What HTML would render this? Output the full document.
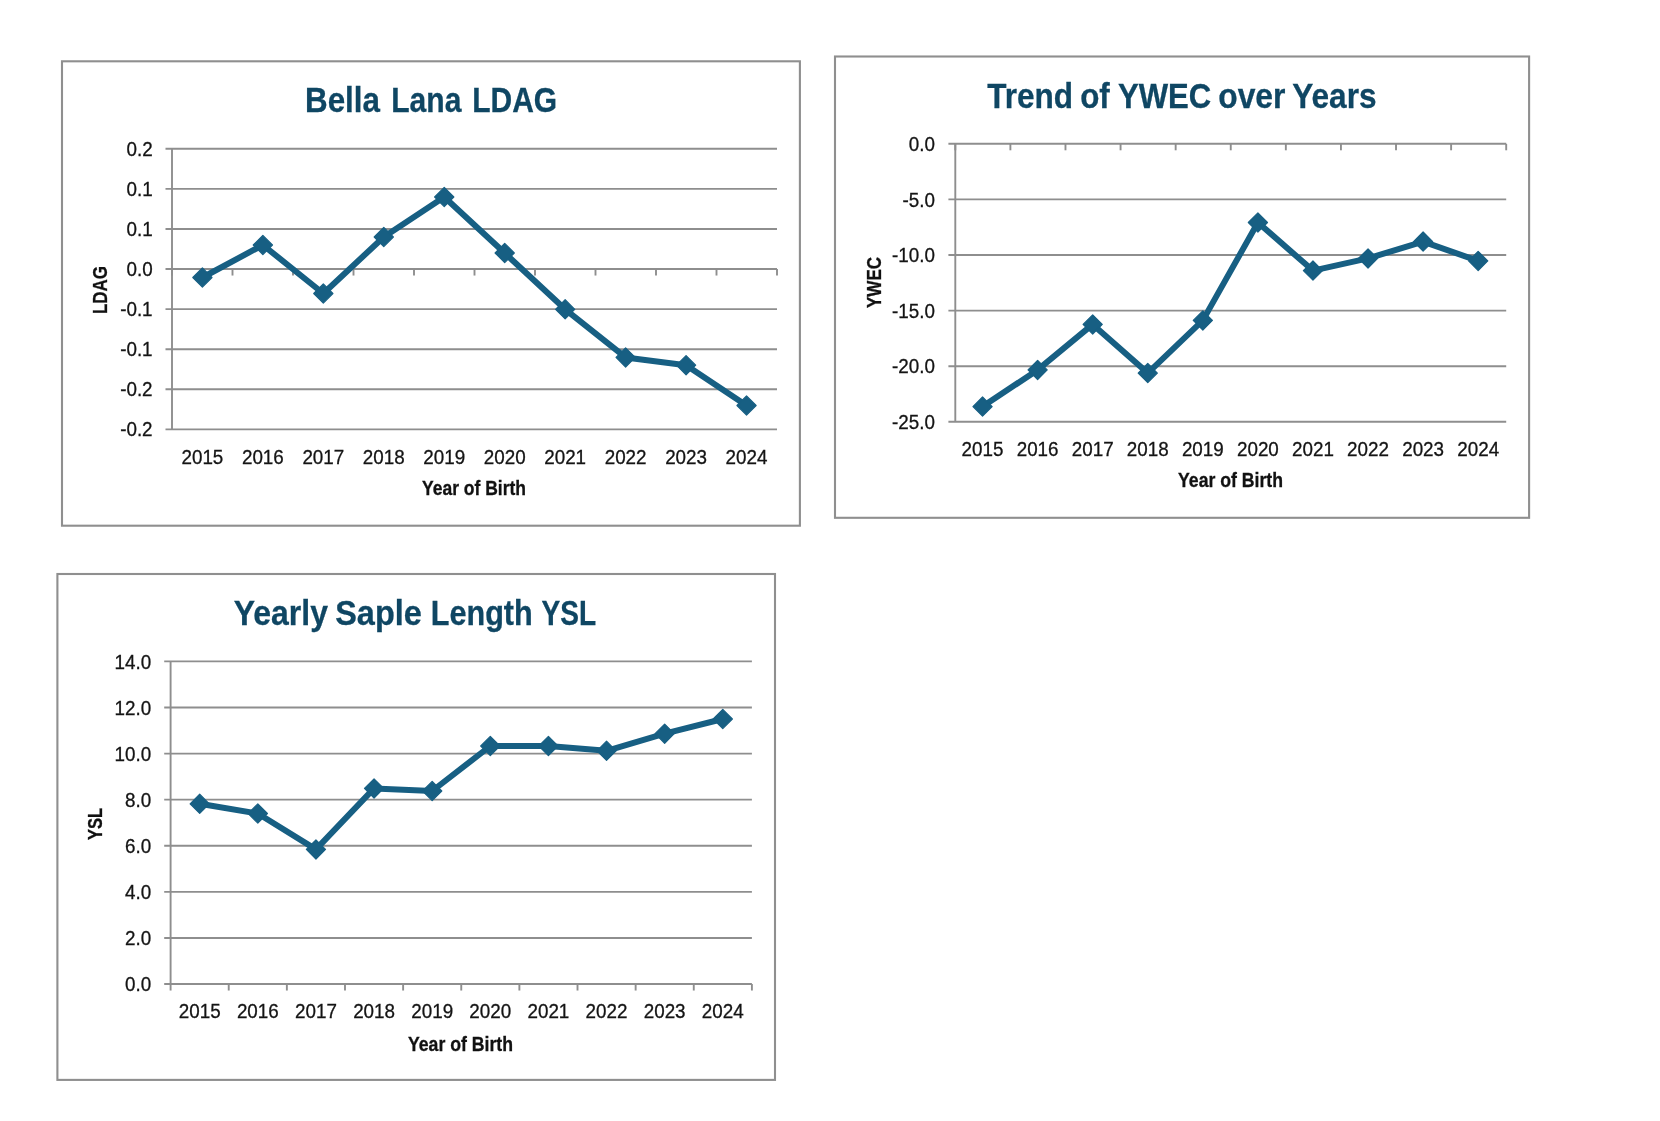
<!DOCTYPE html>
<html><head><meta charset="utf-8"><title>Charts</title>
<style>
html,body{margin:0;padding:0;background:#fff;}
body{width:1660px;height:1121px;overflow:hidden;}
svg{display:block;will-change:transform;}
.t{font-family:'Liberation Sans', Arial, sans-serif;font-size:19.5px;fill:#141414;stroke:#141414;stroke-width:0.3px;}
.b{font-family:'Liberation Sans', Arial, sans-serif;font-size:19.5px;font-weight:bold;fill:#111;stroke:#111;stroke-width:0.3px;}
.h{font-family:'Liberation Sans', Arial, sans-serif;font-size:35.6px;font-weight:bold;fill:#0f4663;stroke:#0f4663;stroke-width:0.3px;}
</style></head>
<body>
<svg width="1660" height="1121" viewBox="0 0 1660 1121">
<rect width="1660" height="1121" fill="#fff"/>
<rect x="62" y="61.3" width="737.9" height="464.4" fill="#fff" stroke="#8f8f8f" stroke-width="2.1"/>
<line x1="165.5" y1="148.8" x2="777" y2="148.8" stroke="#8e8e8e" stroke-width="1.9"/>
<line x1="165.5" y1="188.88" x2="777" y2="188.88" stroke="#8e8e8e" stroke-width="1.9"/>
<line x1="165.5" y1="228.96" x2="777" y2="228.96" stroke="#8e8e8e" stroke-width="1.9"/>
<line x1="165.5" y1="269.04" x2="777" y2="269.04" stroke="#8e8e8e" stroke-width="1.9"/>
<line x1="165.5" y1="309.12" x2="777" y2="309.12" stroke="#8e8e8e" stroke-width="1.9"/>
<line x1="165.5" y1="349.2" x2="777" y2="349.2" stroke="#8e8e8e" stroke-width="1.9"/>
<line x1="165.5" y1="389.28" x2="777" y2="389.28" stroke="#8e8e8e" stroke-width="1.9"/>
<line x1="165.5" y1="429.36" x2="777" y2="429.36" stroke="#8e8e8e" stroke-width="1.9"/>
<line x1="172" y1="148.8" x2="172" y2="429.36" stroke="#8e8e8e" stroke-width="1.9"/>
<line x1="172" y1="269.04" x2="172" y2="275.54" stroke="#8e8e8e" stroke-width="1.9"/>
<line x1="232.5" y1="269.04" x2="232.5" y2="275.54" stroke="#8e8e8e" stroke-width="1.9"/>
<line x1="293" y1="269.04" x2="293" y2="275.54" stroke="#8e8e8e" stroke-width="1.9"/>
<line x1="353.5" y1="269.04" x2="353.5" y2="275.54" stroke="#8e8e8e" stroke-width="1.9"/>
<line x1="414" y1="269.04" x2="414" y2="275.54" stroke="#8e8e8e" stroke-width="1.9"/>
<line x1="474.5" y1="269.04" x2="474.5" y2="275.54" stroke="#8e8e8e" stroke-width="1.9"/>
<line x1="535" y1="269.04" x2="535" y2="275.54" stroke="#8e8e8e" stroke-width="1.9"/>
<line x1="595.5" y1="269.04" x2="595.5" y2="275.54" stroke="#8e8e8e" stroke-width="1.9"/>
<line x1="656" y1="269.04" x2="656" y2="275.54" stroke="#8e8e8e" stroke-width="1.9"/>
<line x1="716.5" y1="269.04" x2="716.5" y2="275.54" stroke="#8e8e8e" stroke-width="1.9"/>
<line x1="777" y1="269.04" x2="777" y2="275.54" stroke="#8e8e8e" stroke-width="1.9"/>
<text x="152.6" y="155.91" text-anchor="end" class="t" textLength="26.16" lengthAdjust="spacingAndGlyphs">0.2</text>
<text x="152.6" y="195.99" text-anchor="end" class="t" textLength="26.16" lengthAdjust="spacingAndGlyphs">0.1</text>
<text x="152.6" y="236.07" text-anchor="end" class="t" textLength="26.16" lengthAdjust="spacingAndGlyphs">0.1</text>
<text x="152.6" y="276.15" text-anchor="end" class="t" textLength="26.16" lengthAdjust="spacingAndGlyphs">0.0</text>
<text x="152.6" y="316.23" text-anchor="end" class="t" textLength="32.43" lengthAdjust="spacingAndGlyphs">-0.1</text>
<text x="152.6" y="356.31" text-anchor="end" class="t" textLength="32.43" lengthAdjust="spacingAndGlyphs">-0.1</text>
<text x="152.6" y="396.39" text-anchor="end" class="t" textLength="32.43" lengthAdjust="spacingAndGlyphs">-0.2</text>
<text x="152.6" y="436.47" text-anchor="end" class="t" textLength="32.43" lengthAdjust="spacingAndGlyphs">-0.2</text>
<text x="202.4" y="463.8" text-anchor="middle" class="t" textLength="41.86" lengthAdjust="spacingAndGlyphs">2015</text>
<text x="262.86" y="463.8" text-anchor="middle" class="t" textLength="41.86" lengthAdjust="spacingAndGlyphs">2016</text>
<text x="323.32" y="463.8" text-anchor="middle" class="t" textLength="41.86" lengthAdjust="spacingAndGlyphs">2017</text>
<text x="383.78" y="463.8" text-anchor="middle" class="t" textLength="41.86" lengthAdjust="spacingAndGlyphs">2018</text>
<text x="444.24" y="463.8" text-anchor="middle" class="t" textLength="41.86" lengthAdjust="spacingAndGlyphs">2019</text>
<text x="504.7" y="463.8" text-anchor="middle" class="t" textLength="41.86" lengthAdjust="spacingAndGlyphs">2020</text>
<text x="565.16" y="463.8" text-anchor="middle" class="t" textLength="41.86" lengthAdjust="spacingAndGlyphs">2021</text>
<text x="625.62" y="463.8" text-anchor="middle" class="t" textLength="41.86" lengthAdjust="spacingAndGlyphs">2022</text>
<text x="686.08" y="463.8" text-anchor="middle" class="t" textLength="41.86" lengthAdjust="spacingAndGlyphs">2023</text>
<text x="746.54" y="463.8" text-anchor="middle" class="t" textLength="41.86" lengthAdjust="spacingAndGlyphs">2024</text>
<text x="474" y="494.7" text-anchor="middle" class="b" textLength="104.03" lengthAdjust="spacingAndGlyphs">Year of Birth</text>
<text transform="translate(107.3,290) rotate(-90)" x="0" y="0" text-anchor="middle" class="b" textLength="48.09" lengthAdjust="spacingAndGlyphs">LDAG</text>
<text y="112" class="h"><tspan x="305" textLength="74.92" lengthAdjust="spacingAndGlyphs">Bella</tspan> <tspan x="391.2" textLength="70.16" lengthAdjust="spacingAndGlyphs">Lana</tspan> <tspan x="472.2" textLength="84.91" lengthAdjust="spacingAndGlyphs">LDAG</tspan></text>
<polyline points="202.4,277.5 262.86,245 323.32,293.5 383.78,237 444.24,197 504.7,253 565.16,309.3 625.62,357.4 686.08,365.2 746.54,405.5" fill="none" stroke="#175f83" stroke-width="6" stroke-linejoin="round" stroke-linecap="round"/>
<polygon points="202.4,267.9 212,277.5 202.4,287.1 192.8,277.5" fill="#175f83" stroke="#175f83" stroke-width="1.2" stroke-linejoin="round"/>
<polygon points="262.86,235.4 272.46,245 262.86,254.6 253.26,245" fill="#175f83" stroke="#175f83" stroke-width="1.2" stroke-linejoin="round"/>
<polygon points="323.32,283.9 332.92,293.5 323.32,303.1 313.72,293.5" fill="#175f83" stroke="#175f83" stroke-width="1.2" stroke-linejoin="round"/>
<polygon points="383.78,227.4 393.38,237 383.78,246.6 374.18,237" fill="#175f83" stroke="#175f83" stroke-width="1.2" stroke-linejoin="round"/>
<polygon points="444.24,187.4 453.84,197 444.24,206.6 434.64,197" fill="#175f83" stroke="#175f83" stroke-width="1.2" stroke-linejoin="round"/>
<polygon points="504.7,243.4 514.3,253 504.7,262.6 495.1,253" fill="#175f83" stroke="#175f83" stroke-width="1.2" stroke-linejoin="round"/>
<polygon points="565.16,299.7 574.76,309.3 565.16,318.9 555.56,309.3" fill="#175f83" stroke="#175f83" stroke-width="1.2" stroke-linejoin="round"/>
<polygon points="625.62,347.8 635.22,357.4 625.62,367 616.02,357.4" fill="#175f83" stroke="#175f83" stroke-width="1.2" stroke-linejoin="round"/>
<polygon points="686.08,355.6 695.68,365.2 686.08,374.8 676.48,365.2" fill="#175f83" stroke="#175f83" stroke-width="1.2" stroke-linejoin="round"/>
<polygon points="746.54,395.9 756.14,405.5 746.54,415.1 736.94,405.5" fill="#175f83" stroke="#175f83" stroke-width="1.2" stroke-linejoin="round"/>
<rect x="835" y="56.5" width="694.1" height="461.3" fill="#fff" stroke="#8f8f8f" stroke-width="2.1"/>
<line x1="948.4" y1="143.8" x2="1506.2" y2="143.8" stroke="#8e8e8e" stroke-width="1.9"/>
<line x1="948.4" y1="199.4" x2="1506.2" y2="199.4" stroke="#8e8e8e" stroke-width="1.9"/>
<line x1="948.4" y1="255" x2="1506.2" y2="255" stroke="#8e8e8e" stroke-width="1.9"/>
<line x1="948.4" y1="310.6" x2="1506.2" y2="310.6" stroke="#8e8e8e" stroke-width="1.9"/>
<line x1="948.4" y1="366.2" x2="1506.2" y2="366.2" stroke="#8e8e8e" stroke-width="1.9"/>
<line x1="948.4" y1="421.8" x2="1506.2" y2="421.8" stroke="#8e8e8e" stroke-width="1.9"/>
<line x1="955.3" y1="143.8" x2="955.3" y2="421.8" stroke="#8e8e8e" stroke-width="1.9"/>
<line x1="955.3" y1="143.8" x2="955.3" y2="150.3" stroke="#8e8e8e" stroke-width="1.9"/>
<line x1="1010.39" y1="143.8" x2="1010.39" y2="150.3" stroke="#8e8e8e" stroke-width="1.9"/>
<line x1="1065.48" y1="143.8" x2="1065.48" y2="150.3" stroke="#8e8e8e" stroke-width="1.9"/>
<line x1="1120.57" y1="143.8" x2="1120.57" y2="150.3" stroke="#8e8e8e" stroke-width="1.9"/>
<line x1="1175.66" y1="143.8" x2="1175.66" y2="150.3" stroke="#8e8e8e" stroke-width="1.9"/>
<line x1="1230.75" y1="143.8" x2="1230.75" y2="150.3" stroke="#8e8e8e" stroke-width="1.9"/>
<line x1="1285.84" y1="143.8" x2="1285.84" y2="150.3" stroke="#8e8e8e" stroke-width="1.9"/>
<line x1="1340.93" y1="143.8" x2="1340.93" y2="150.3" stroke="#8e8e8e" stroke-width="1.9"/>
<line x1="1396.02" y1="143.8" x2="1396.02" y2="150.3" stroke="#8e8e8e" stroke-width="1.9"/>
<line x1="1451.11" y1="143.8" x2="1451.11" y2="150.3" stroke="#8e8e8e" stroke-width="1.9"/>
<line x1="1506.2" y1="143.8" x2="1506.2" y2="150.3" stroke="#8e8e8e" stroke-width="1.9"/>
<text x="935" y="150.91" text-anchor="end" class="t" textLength="26.16" lengthAdjust="spacingAndGlyphs">0.0</text>
<text x="935" y="206.51" text-anchor="end" class="t" textLength="32.43" lengthAdjust="spacingAndGlyphs">-5.0</text>
<text x="935" y="262.11" text-anchor="end" class="t" textLength="42.89" lengthAdjust="spacingAndGlyphs">-10.0</text>
<text x="935" y="317.71" text-anchor="end" class="t" textLength="42.89" lengthAdjust="spacingAndGlyphs">-15.0</text>
<text x="935" y="373.31" text-anchor="end" class="t" textLength="42.89" lengthAdjust="spacingAndGlyphs">-20.0</text>
<text x="935" y="428.91" text-anchor="end" class="t" textLength="42.89" lengthAdjust="spacingAndGlyphs">-25.0</text>
<text x="982.55" y="455.6" text-anchor="middle" class="t" textLength="41.86" lengthAdjust="spacingAndGlyphs">2015</text>
<text x="1037.62" y="455.6" text-anchor="middle" class="t" textLength="41.86" lengthAdjust="spacingAndGlyphs">2016</text>
<text x="1092.69" y="455.6" text-anchor="middle" class="t" textLength="41.86" lengthAdjust="spacingAndGlyphs">2017</text>
<text x="1147.76" y="455.6" text-anchor="middle" class="t" textLength="41.86" lengthAdjust="spacingAndGlyphs">2018</text>
<text x="1202.83" y="455.6" text-anchor="middle" class="t" textLength="41.86" lengthAdjust="spacingAndGlyphs">2019</text>
<text x="1257.9" y="455.6" text-anchor="middle" class="t" textLength="41.86" lengthAdjust="spacingAndGlyphs">2020</text>
<text x="1312.97" y="455.6" text-anchor="middle" class="t" textLength="41.86" lengthAdjust="spacingAndGlyphs">2021</text>
<text x="1368.04" y="455.6" text-anchor="middle" class="t" textLength="41.86" lengthAdjust="spacingAndGlyphs">2022</text>
<text x="1423.11" y="455.6" text-anchor="middle" class="t" textLength="41.86" lengthAdjust="spacingAndGlyphs">2023</text>
<text x="1478.18" y="455.6" text-anchor="middle" class="t" textLength="41.86" lengthAdjust="spacingAndGlyphs">2024</text>
<text x="1230.5" y="486.6" text-anchor="middle" class="b" textLength="104.94" lengthAdjust="spacingAndGlyphs">Year of Birth</text>
<text transform="translate(881,282.5) rotate(-90)" x="0" y="0" text-anchor="middle" class="b" textLength="51.11" lengthAdjust="spacingAndGlyphs">YWEC</text>
<text y="108.2" class="h"><tspan x="987.2" textLength="85.77" lengthAdjust="spacingAndGlyphs">Trend</tspan> <tspan x="1080.2" textLength="29.63" lengthAdjust="spacingAndGlyphs">of</tspan> <tspan x="1118" textLength="93.26" lengthAdjust="spacingAndGlyphs">YWEC</tspan> <tspan x="1218.2" textLength="67.23" lengthAdjust="spacingAndGlyphs">over</tspan> <tspan x="1292.2" textLength="84.3" lengthAdjust="spacingAndGlyphs">Years</tspan></text>
<polyline points="982.55,406.6 1037.62,369.9 1092.69,324.4 1147.76,373.1 1202.83,320.4 1257.9,222.5 1312.97,270.6 1368.04,258.4 1423.11,241.6 1478.18,260.9" fill="none" stroke="#175f83" stroke-width="6" stroke-linejoin="round" stroke-linecap="round"/>
<polygon points="982.55,397 992.15,406.6 982.55,416.2 972.95,406.6" fill="#175f83" stroke="#175f83" stroke-width="1.2" stroke-linejoin="round"/>
<polygon points="1037.62,360.3 1047.22,369.9 1037.62,379.5 1028.02,369.9" fill="#175f83" stroke="#175f83" stroke-width="1.2" stroke-linejoin="round"/>
<polygon points="1092.69,314.8 1102.29,324.4 1092.69,334 1083.09,324.4" fill="#175f83" stroke="#175f83" stroke-width="1.2" stroke-linejoin="round"/>
<polygon points="1147.76,363.5 1157.36,373.1 1147.76,382.7 1138.16,373.1" fill="#175f83" stroke="#175f83" stroke-width="1.2" stroke-linejoin="round"/>
<polygon points="1202.83,310.8 1212.43,320.4 1202.83,330 1193.23,320.4" fill="#175f83" stroke="#175f83" stroke-width="1.2" stroke-linejoin="round"/>
<polygon points="1257.9,212.9 1267.5,222.5 1257.9,232.1 1248.3,222.5" fill="#175f83" stroke="#175f83" stroke-width="1.2" stroke-linejoin="round"/>
<polygon points="1312.97,261 1322.57,270.6 1312.97,280.2 1303.37,270.6" fill="#175f83" stroke="#175f83" stroke-width="1.2" stroke-linejoin="round"/>
<polygon points="1368.04,248.8 1377.64,258.4 1368.04,268 1358.44,258.4" fill="#175f83" stroke="#175f83" stroke-width="1.2" stroke-linejoin="round"/>
<polygon points="1423.11,232 1432.71,241.6 1423.11,251.2 1413.51,241.6" fill="#175f83" stroke="#175f83" stroke-width="1.2" stroke-linejoin="round"/>
<polygon points="1478.18,251.3 1487.78,260.9 1478.18,270.5 1468.58,260.9" fill="#175f83" stroke="#175f83" stroke-width="1.2" stroke-linejoin="round"/>
<rect x="57.4" y="574" width="717.6" height="505.9" fill="#fff" stroke="#8f8f8f" stroke-width="2.1"/>
<line x1="164.2" y1="661.4" x2="751.9" y2="661.4" stroke="#8e8e8e" stroke-width="1.9"/>
<line x1="164.2" y1="707.49" x2="751.9" y2="707.49" stroke="#8e8e8e" stroke-width="1.9"/>
<line x1="164.2" y1="753.58" x2="751.9" y2="753.58" stroke="#8e8e8e" stroke-width="1.9"/>
<line x1="164.2" y1="799.67" x2="751.9" y2="799.67" stroke="#8e8e8e" stroke-width="1.9"/>
<line x1="164.2" y1="845.76" x2="751.9" y2="845.76" stroke="#8e8e8e" stroke-width="1.9"/>
<line x1="164.2" y1="891.85" x2="751.9" y2="891.85" stroke="#8e8e8e" stroke-width="1.9"/>
<line x1="164.2" y1="937.94" x2="751.9" y2="937.94" stroke="#8e8e8e" stroke-width="1.9"/>
<line x1="164.2" y1="984.03" x2="751.9" y2="984.03" stroke="#8e8e8e" stroke-width="1.9"/>
<line x1="170.6" y1="661.4" x2="170.6" y2="984.03" stroke="#8e8e8e" stroke-width="1.9"/>
<line x1="170.6" y1="984.03" x2="170.6" y2="990.53" stroke="#8e8e8e" stroke-width="1.9"/>
<line x1="228.73" y1="984.03" x2="228.73" y2="990.53" stroke="#8e8e8e" stroke-width="1.9"/>
<line x1="286.86" y1="984.03" x2="286.86" y2="990.53" stroke="#8e8e8e" stroke-width="1.9"/>
<line x1="344.99" y1="984.03" x2="344.99" y2="990.53" stroke="#8e8e8e" stroke-width="1.9"/>
<line x1="403.12" y1="984.03" x2="403.12" y2="990.53" stroke="#8e8e8e" stroke-width="1.9"/>
<line x1="461.25" y1="984.03" x2="461.25" y2="990.53" stroke="#8e8e8e" stroke-width="1.9"/>
<line x1="519.38" y1="984.03" x2="519.38" y2="990.53" stroke="#8e8e8e" stroke-width="1.9"/>
<line x1="577.51" y1="984.03" x2="577.51" y2="990.53" stroke="#8e8e8e" stroke-width="1.9"/>
<line x1="635.64" y1="984.03" x2="635.64" y2="990.53" stroke="#8e8e8e" stroke-width="1.9"/>
<line x1="693.77" y1="984.03" x2="693.77" y2="990.53" stroke="#8e8e8e" stroke-width="1.9"/>
<line x1="751.9" y1="984.03" x2="751.9" y2="990.53" stroke="#8e8e8e" stroke-width="1.9"/>
<text x="151.2" y="668.51" text-anchor="end" class="t" textLength="36.62" lengthAdjust="spacingAndGlyphs">14.0</text>
<text x="151.2" y="714.6" text-anchor="end" class="t" textLength="36.62" lengthAdjust="spacingAndGlyphs">12.0</text>
<text x="151.2" y="760.69" text-anchor="end" class="t" textLength="36.62" lengthAdjust="spacingAndGlyphs">10.0</text>
<text x="151.2" y="806.78" text-anchor="end" class="t" textLength="26.16" lengthAdjust="spacingAndGlyphs">8.0</text>
<text x="151.2" y="852.87" text-anchor="end" class="t" textLength="26.16" lengthAdjust="spacingAndGlyphs">6.0</text>
<text x="151.2" y="898.96" text-anchor="end" class="t" textLength="26.16" lengthAdjust="spacingAndGlyphs">4.0</text>
<text x="151.2" y="945.05" text-anchor="end" class="t" textLength="26.16" lengthAdjust="spacingAndGlyphs">2.0</text>
<text x="151.2" y="991.14" text-anchor="end" class="t" textLength="26.16" lengthAdjust="spacingAndGlyphs">0.0</text>
<text x="199.7" y="1017.7" text-anchor="middle" class="t" textLength="41.86" lengthAdjust="spacingAndGlyphs">2015</text>
<text x="257.82" y="1017.7" text-anchor="middle" class="t" textLength="41.86" lengthAdjust="spacingAndGlyphs">2016</text>
<text x="315.94" y="1017.7" text-anchor="middle" class="t" textLength="41.86" lengthAdjust="spacingAndGlyphs">2017</text>
<text x="374.06" y="1017.7" text-anchor="middle" class="t" textLength="41.86" lengthAdjust="spacingAndGlyphs">2018</text>
<text x="432.18" y="1017.7" text-anchor="middle" class="t" textLength="41.86" lengthAdjust="spacingAndGlyphs">2019</text>
<text x="490.3" y="1017.7" text-anchor="middle" class="t" textLength="41.86" lengthAdjust="spacingAndGlyphs">2020</text>
<text x="548.42" y="1017.7" text-anchor="middle" class="t" textLength="41.86" lengthAdjust="spacingAndGlyphs">2021</text>
<text x="606.54" y="1017.7" text-anchor="middle" class="t" textLength="41.86" lengthAdjust="spacingAndGlyphs">2022</text>
<text x="664.66" y="1017.7" text-anchor="middle" class="t" textLength="41.86" lengthAdjust="spacingAndGlyphs">2023</text>
<text x="722.78" y="1017.7" text-anchor="middle" class="t" textLength="41.86" lengthAdjust="spacingAndGlyphs">2024</text>
<text x="460.5" y="1050.6" text-anchor="middle" class="b" textLength="105.03" lengthAdjust="spacingAndGlyphs">Year of Birth</text>
<text transform="translate(102.2,824) rotate(-90)" x="0" y="0" text-anchor="middle" class="b" textLength="32.22" lengthAdjust="spacingAndGlyphs">YSL</text>
<text y="625" class="h"><tspan x="233.8" textLength="94.14" lengthAdjust="spacingAndGlyphs">Yearly</tspan> <tspan x="335.2" textLength="86.59" lengthAdjust="spacingAndGlyphs">Saple</tspan> <tspan x="430.8" textLength="101.95" lengthAdjust="spacingAndGlyphs">Length</tspan> <tspan x="541.6" textLength="54.61" lengthAdjust="spacingAndGlyphs">YSL</tspan></text>
<polyline points="199.7,803.8 257.82,813.5 315.94,849.4 374.06,788.4 432.18,791 490.3,746 548.42,746 606.54,750.8 664.66,733.7 722.78,719" fill="none" stroke="#175f83" stroke-width="6" stroke-linejoin="round" stroke-linecap="round"/>
<polygon points="199.7,794.2 209.3,803.8 199.7,813.4 190.1,803.8" fill="#175f83" stroke="#175f83" stroke-width="1.2" stroke-linejoin="round"/>
<polygon points="257.82,803.9 267.42,813.5 257.82,823.1 248.22,813.5" fill="#175f83" stroke="#175f83" stroke-width="1.2" stroke-linejoin="round"/>
<polygon points="315.94,839.8 325.54,849.4 315.94,859 306.34,849.4" fill="#175f83" stroke="#175f83" stroke-width="1.2" stroke-linejoin="round"/>
<polygon points="374.06,778.8 383.66,788.4 374.06,798 364.46,788.4" fill="#175f83" stroke="#175f83" stroke-width="1.2" stroke-linejoin="round"/>
<polygon points="432.18,781.4 441.78,791 432.18,800.6 422.58,791" fill="#175f83" stroke="#175f83" stroke-width="1.2" stroke-linejoin="round"/>
<polygon points="490.3,736.4 499.9,746 490.3,755.6 480.7,746" fill="#175f83" stroke="#175f83" stroke-width="1.2" stroke-linejoin="round"/>
<polygon points="548.42,736.4 558.02,746 548.42,755.6 538.82,746" fill="#175f83" stroke="#175f83" stroke-width="1.2" stroke-linejoin="round"/>
<polygon points="606.54,741.2 616.14,750.8 606.54,760.4 596.94,750.8" fill="#175f83" stroke="#175f83" stroke-width="1.2" stroke-linejoin="round"/>
<polygon points="664.66,724.1 674.26,733.7 664.66,743.3 655.06,733.7" fill="#175f83" stroke="#175f83" stroke-width="1.2" stroke-linejoin="round"/>
<polygon points="722.78,709.4 732.38,719 722.78,728.6 713.18,719" fill="#175f83" stroke="#175f83" stroke-width="1.2" stroke-linejoin="round"/>
</svg>
</body></html>
